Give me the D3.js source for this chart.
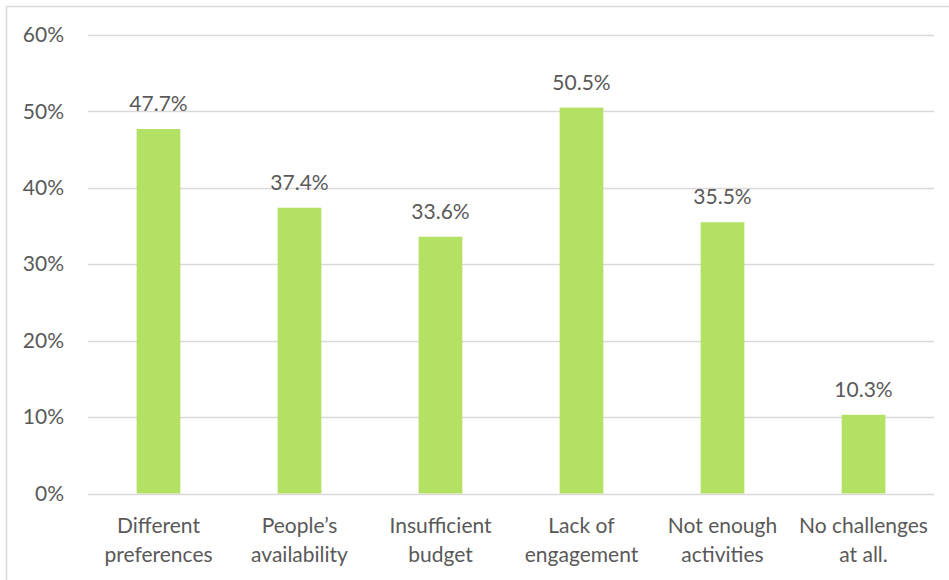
<!DOCTYPE html>
<html>
<head>
<meta charset="utf-8">
<script src="https://cdn.jsdelivr.net/npm/d3@7"></script>
<style>
  html, body { margin: 0; padding: 0; background: #fff; }
  svg { display: block; }
  text { font-family: Lato, "Open Sans", sans-serif; fill: #595959; }
</style>
</head>
<body>
<svg id="chart" width="949" height="580"></svg>
<script>
// Challenges reported, share of respondents
const categories = [
  ["Different", "preferences"],
  ["People\u2019s", "availability"],
  ["Insufficient", "budget"],
  ["Lack of", "engagement"],
  ["Not enough", "activities"],
  ["No challenges", "at all."]
];
const values = [47.7, 37.4, 33.6, 50.5, 35.5, 10.3];
const yTicks = [0, 10, 20, 30, 40, 50, 60];

const svg = d3.select("#chart");
const W = 949, H = 580;
const plot = { left: 88, right: 934, top: 35, bottom: 493.5 };
const fontSize = "21px";

// Outer frame (runs off the right and bottom edges)
svg.append("rect")
  .attr("x", 6.5).attr("y", 6.5)
  .attr("width", W + 10).attr("height", H + 10)
  .attr("fill", "none").attr("stroke", "#d9d9d9").attr("stroke-width", 1.5);

const x = d3.scaleBand()
  .domain(d3.range(categories.length))
  .range([plot.left, plot.right])
  .paddingInner(0.69).paddingOuter(0.345);

const y = d3.scaleLinear().domain([0, 60]).range([plot.bottom, plot.top]);

// Gridlines
svg.append("g")
  .selectAll("line")
  .data(yTicks)
  .join("line")
  .attr("x1", plot.left).attr("x2", plot.right)
  .attr("y1", d => Math.round(y(d)) + 0.5).attr("y2", d => Math.round(y(d)) + 0.5)
  .attr("stroke", "#d9d9d9").attr("stroke-width", 1.5);

// Y axis labels
const yAxis = d3.axisLeft(y).tickValues(yTicks).tickFormat(d => d + "%").tickSize(0).tickPadding(0);
const yg = svg.append("g").attr("transform", `translate(${plot.left - 24},0)`).call(yAxis);
yg.select(".domain").remove();
yg.selectAll("text").style("font-size", fontSize).attr("fill", "#595959");

// Bars
svg.append("g")
  .selectAll("rect")
  .data(values)
  .join("rect")
  .attr("x", (d, i) => x(i))
  .attr("width", x.bandwidth())
  .attr("y", d => y(d))
  .attr("height", d => y(0) - y(d))
  .attr("fill", "#b3e164");

// Value labels
svg.append("g")
  .selectAll("text")
  .data(values)
  .join("text")
  .attr("x", (d, i) => x(i) + x.bandwidth() / 2)
  .attr("y", d => y(d) - 18)
  .attr("text-anchor", "middle")
  .style("font-size", fontSize)
  .text(d => d.toFixed(1) + "%");

// Category labels (two lines each)
const xAxis = d3.axisBottom(x).tickSize(0).tickFormat(() => "");
const xg = svg.append("g").attr("transform", `translate(0,${plot.bottom})`).call(xAxis);
xg.select(".domain").remove();
xg.selectAll(".tick").each(function(i) {
  const t = d3.select(this).append("text")
    .attr("text-anchor", "middle")
    .style("font-size", fontSize)
    .attr("fill", "#595959");
  categories[i].forEach((line, k) => {
    t.append("tspan").attr("x", 0).attr("y", 39 + k * 29).text(line);
  });
});
</script>
</body>
</html>
